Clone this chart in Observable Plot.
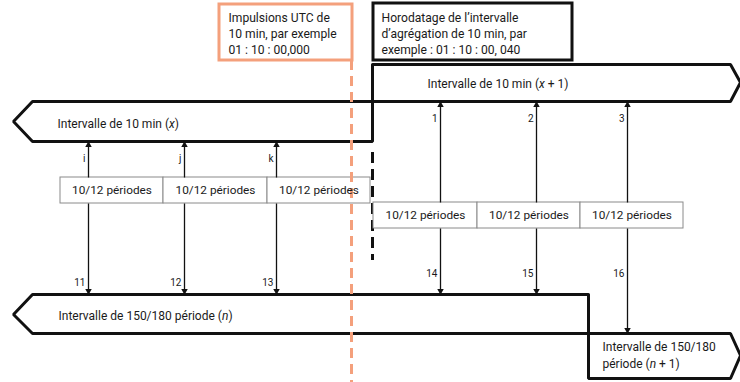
<!DOCTYPE html>
<html><head><meta charset="utf-8">
<script src="https://cdn.jsdelivr.net/npm/d3@7"></script>
<script src="https://cdn.jsdelivr.net/npm/@observablehq/plot@0.6"></script>
<style>body{margin:0;background:#fff} svg{display:block}</style>
</head><body><div id="chart"></div>
<script>
// ---- Diagram data (diagram units: x = time along the timeline, y = lane) ----
const periodLabel = "10/12 périodes";
const rowAEdges = [60, 163, 267, 370];          // sub-period boundaries, interval x
const rowBEdges = [373, 477, 580, 683];         // sub-period boundaries, interval x+1
const upLabelsA = ["i", "j", "k"];
const upLabelsB = ["1", "2", "3"];
const downLabelsA = ["11", "12", "13"];
const downLabelsB = ["14", "15", "16"];
const tapsA = [88, 184, 276];
const tapsB = [440, 536, 627];
const downTargetB = [294, 294, 333];

const shapeX  = [[372,101],[32,101],[13,121],[32,141],[372,141],[372,101]];
const shapeX1 = [[372,64],[730,64],[740,82],[730,101],[372,101],[372,64]];
const shapeN  = [[588,294],[32,294],[13,314],[32,333],[588,333],[588,294]];
const shapeN1 = [[588,333],[730,333],[740,355],[730,378],[588,378],[588,333]];

const intervalNames = ["Intervalle de 10 min (x)", "Intervalle de 10 min (x + 1)",
  "Intervalle de 150/180 période (n)", "Intervalle de 150/180\npériode (n + 1)"];
const pulseNote = "Impulsions UTC de\n10 min, par exemple\n01 : 10 : 00,000";
const stampNote = "Horodatage de l’intervalle\nd’agrégation de 10 min, par\nexemple : 01 : 10 : 00, 040";
const pulseTime = 351;
const stampTime = 372;

// ---- Build tables ----
const FONT = "Roboto, 'Noto Sans', sans-serif";
const shapes = [shapeX, shapeX1, shapeN, shapeN1].flatMap((s, k) => s.map(([x, y]) => ({id: k, x, y})));
const cells = [
  ...rowAEdges.slice(0, -1).map((e, i) => ({x1: e, x2: rowAEdges[i+1], y1: 177, y2: 203})),
  ...rowBEdges.slice(0, -1).map((e, i) => ({x1: e, x2: rowBEdges[i+1], y1: 202, y2: 228}))
];
const links = [
  ...tapsA.map((x, i) => ({x, from: 177, to: 141, label: upLabelsA[i], ly: 158})),
  ...tapsB.map((x, i) => ({x, from: 202, to: 101, label: upLabelsB[i], ly: 118})),
  ...tapsA.map((x, i) => ({x, from: 203, to: 294, label: downLabelsA[i], ly: 282})),
  ...tapsB.map((x, i) => ({x, from: 228, to: downTargetB[i], label: downLabelsB[i], ly: 273}))
];
const names = [
  {t: intervalNames[0], x: 57, y: 122},
  {t: intervalNames[1], x: 427, y: 82},
  {t: intervalNames[2], x: 58, y: 314},
  {t: intervalNames[3], x: 602, y: 354}
];

const headOff = 3.6;
const INK = "#1a1a1a";
const chart = Plot.plot({
  width: 740, height: 382,
  margin: 0,
  x: {domain: [0, 740], range: [0, 740], axis: null},
  y: {domain: [0, 382], range: [0, 382], axis: null},
  style: {fontFamily: FONT, background: "#fff"},
  marks: [
    // stamp dashed line
    Plot.ruleX([stampTime], {y1: 152, y2: 260, stroke: "#111", strokeWidth: 3, strokeDasharray: "11,6"}),
    // interval arrows
    Plot.line(shapes, {x: "x", y: "y", z: "id", stroke: "#111", strokeWidth: 3, fill: "white", strokeLinejoin: "miter", curve: "linear"}),
    // sub-period cells
    Plot.rect(cells, {x1: "x1", x2: "x2", y1: "y1", y2: "y2", fill: "white", stroke: "#8a8a8a", strokeWidth: 1}),
    // UTC pulse dashed line (drawn over the shapes)
    Plot.ruleX([pulseTime], {y1: 60, y2: 382, stroke: "#F4A07C", strokeWidth: 3, strokeDasharray: "10,6"}),
    Plot.text(cells, {x: d => (d.x1 + d.x2) / 2, y: d => (d.y1 + d.y2) / 2, text: () => periodLabel, fontSize: 11.8, fill: INK}),
    // tap arrows
    Plot.link(links, {x1: "x", x2: "x", y1: "from", y2: "to", stroke: "#111", strokeWidth: 1.3}),
    Plot.dot(links, {x: "x", y: d => d.to > d.from ? d.to - headOff : d.to + headOff, symbol: "triangle", r: 2.4, fill: "#111", stroke: "none", rotate: d => d.to > d.from ? 180 : 0}),
    Plot.text(links, {x: d => d.x - 3, y: "ly", text: "label", textAnchor: "end", fontSize: 10, fill: INK}),
    // interval names
    Plot.text(names, {x: "x", y: "y", text: "t", textAnchor: "start", fontSize: 12, lineHeight: 1.4, fill: INK}),
    // note boxes
    Plot.rect([{}], {x1: 219, x2: 352, y1: 4, y2: 60, fill: "white", stroke: "#F4A07C", strokeWidth: 3}),
    Plot.text([pulseNote], {x: 228, y: 32, text: d => d, textAnchor: "start", fontSize: 12.1, lineHeight: 1.32, fill: INK}),
    Plot.rect([{}], {x1: 373, x2: 572, y1: 3, y2: 60, fill: "white", stroke: "#111", strokeWidth: 3}),
    Plot.text([stampNote], {x: 381, y: 32, text: d => d, textAnchor: "start", fontSize: 12.1, lineHeight: 1.32, fill: INK})
  ]
});

// italicise the variable names (x), (n)
chart.querySelectorAll("text, tspan").forEach(el => {
  if (el.children.length) return;
  const s = el.textContent;
  const m = s.match(/^(.*\()([xn])(.*)$/);
  if (!m) return;
  el.textContent = "";
  el.appendChild(document.createTextNode(m[1]));
  const it = document.createElementNS("http://www.w3.org/2000/svg", "tspan");
  it.setAttribute("font-style", "italic");
  it.textContent = m[2];
  el.appendChild(it);
  el.appendChild(document.createTextNode(m[3]));
});
document.getElementById("chart").appendChild(chart);
</script>
</body></html>
